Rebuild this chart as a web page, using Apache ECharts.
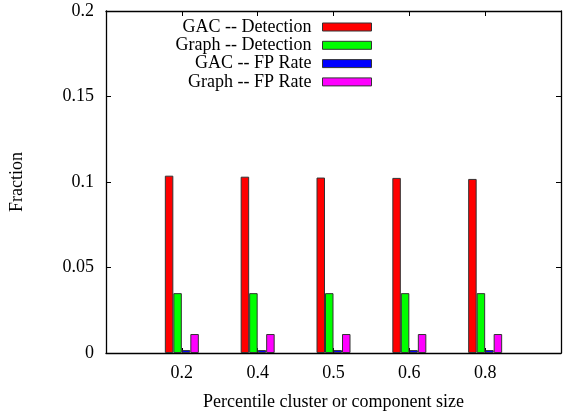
<!DOCTYPE html>
<html>
<head>
<meta charset="utf-8">
<script src="https://cdn.jsdelivr.net/npm/echarts@6/dist/echarts.min.js"></script>
<style>
  html, body { margin: 0; padding: 0; background: #fff; }
  #chart { width: 564px; height: 416px; }
</style>
</head>
<body>
<div id="chart"></div>
<script>
// percentile values on the x axis
const categories = ['0.2', '0.4', '0.5', '0.6', '0.8'];
const gacDetection = [0.1037, 0.1031, 0.1026, 0.1024, 0.1018];
const graphDetection = [0.035, 0.035, 0.035, 0.035, 0.035];
const gacFpRate = [0.0017, 0.0017, 0.0017, 0.0017, 0.0017];
const graphFpRate = [0.0111, 0.0111, 0.0111, 0.0111, 0.0111];
const yTicks = [0, 0.05, 0.1, 0.15, 0.2];

const names = ['GAC -- Detection', 'Graph -- Detection', 'GAC -- FP Rate', 'Graph -- FP Rate'];
const colors = ['#ff0000', '#00ff00', '#0000ff', '#ff00ff'];
const values = [gacDetection, graphDetection, gacFpRate, graphFpRate];

const font = 'Liberation Serif';
const fs = 18;
const chart = echarts.init(document.getElementById('chart'));

const tick = { show: true, inside: true, length: 5, lineStyle: { color: '#000', width: 1 } };
const line = { show: true, onZero: false, lineStyle: { color: '#000', width: 1.3 } };

chart.setOption({
  animation: false,
  textStyle: { fontFamily: font },
  grid: { left: 102, right: 2, top: 11, bottom: 62, containLabel: false },
  // one legend per entry so the swatches line up on the right
  legend: names.map((n, i) => ({
    data: [n],
    right: 192,
    top: 18 + i * 18.3,
    padding: 0,
    align: 'right',
    itemWidth: 49,
    itemHeight: 8,
    icon: 'rect',
    selectedMode: false,
    textStyle: { fontFamily: font, fontSize: fs, color: '#000', padding: [0, 6, 0, 0] },
    itemStyle: { borderColor: '#333', borderWidth: 1 }
  })),
  xAxis: [
    {
      type: 'value', min: 0, max: categories.length + 1, interval: 1,
      axisLine: line,
      axisTick: tick,
      splitLine: { show: false },
      axisLabel: {
        fontFamily: font, fontSize: fs, color: '#000', margin: 11,
        formatter: v => categories[v - 1] || ''
      },
      name: 'Percentile cluster or component size',
      nameLocation: 'middle', nameGap: 40,
      nameTextStyle: { fontFamily: font, fontSize: fs, color: '#000' }
    },
    {
      type: 'value', position: 'top', min: 0, max: categories.length + 1, interval: 1,
      axisLine: line,
      axisTick: tick,
      axisLabel: { show: false },
      splitLine: { show: false }
    }
  ],
  yAxis: [
    {
      type: 'value', min: yTicks[0], max: yTicks[yTicks.length - 1], interval: 0.05,
      axisLine: line,
      axisTick: tick,
      splitLine: { show: false },
      axisLabel: { fontFamily: font, fontSize: fs, color: '#000', margin: 12 },
      name: 'Fraction', nameLocation: 'middle', nameGap: 80, nameRotate: 90,
      nameTextStyle: { fontFamily: font, fontSize: fs, color: '#000' }
    },
    {
      type: 'value', position: 'right', min: 0, max: 0.2, interval: 0.05,
      axisLine: line,
      axisTick: tick,
      axisLabel: { show: false },
      splitLine: { show: false }
    }
  ],
  series: names.map((n, i) => ({
    name: n,
    type: 'bar',
    barWidth: 8.5,
    barGap: '0%',
    itemStyle: { color: colors[i], borderColor: '#333', borderWidth: 1 },
    data: values[i].map((v, j) => [j + 1, v])
  }))
});
</script>
</body>
</html>
